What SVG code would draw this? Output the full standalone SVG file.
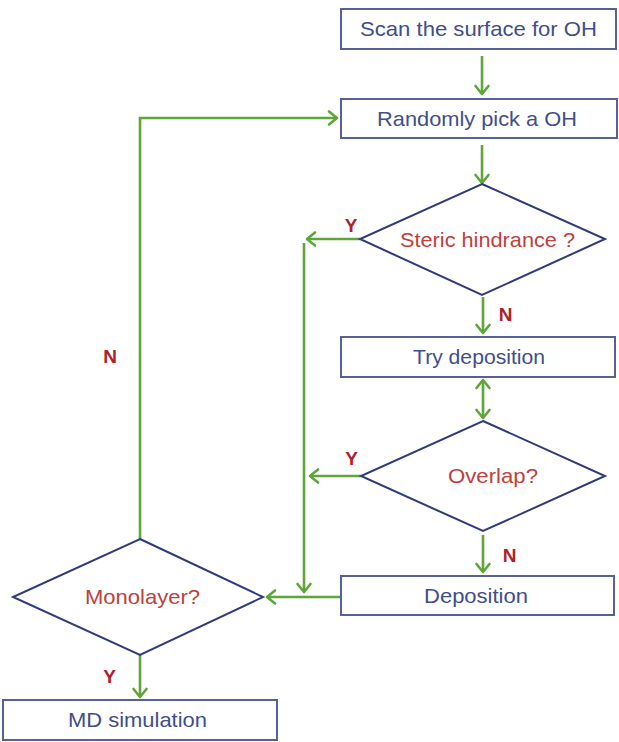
<svg xmlns="http://www.w3.org/2000/svg" width="619" height="742" viewBox="0 0 619 742">
<defs>
<style>
.box{fill:#ffffff;stroke:#56609a;stroke-width:2}
.dia{fill:#ffffff;stroke:#2f3b7a;stroke-width:2}
.bt{font-family:"Liberation Sans",Arial,sans-serif;font-size:21px;fill:#3f4e8c;text-anchor:middle}
.dt{font-family:"Liberation Sans",Arial,sans-serif;font-size:21px;fill:#c0403c;text-anchor:middle}
.lb{font-family:"Liberation Sans",Arial,sans-serif;font-size:19px;font-weight:bold;fill:#b0202a;text-anchor:middle}
.con{fill:none;stroke:#5ea53a;stroke-width:2.6}
</style>
<marker id="ah" viewBox="-10 -8 12 16" refX="0" refY="0" markerWidth="12" markerHeight="16" markerUnits="userSpaceOnUse" orient="auto-start-reverse" overflow="visible">
<path d="M-8,-6.5 L0,0 L-8,6.5" fill="none" stroke="#5ea53a" stroke-width="2.6" stroke-linejoin="round" stroke-linecap="round"/>
</marker>
</defs>
<rect width="619" height="742" fill="#ffffff"/>

<g id="connectors">
<line class="con" x1="482" y1="56" x2="482" y2="94" marker-end="url(#ah)"/>
<line class="con" x1="482" y1="145" x2="482" y2="183" marker-end="url(#ah)"/>
<line class="con" x1="360" y1="239" x2="307" y2="239" marker-end="url(#ah)"/>
<line class="con" x1="304" y1="243" x2="304" y2="592" marker-end="url(#ah)"/>
<line class="con" x1="483" y1="297" x2="483" y2="333" marker-end="url(#ah)"/>
<line class="con" x1="483" y1="380" x2="483" y2="418" marker-start="url(#ah)" marker-end="url(#ah)"/>
<line class="con" x1="361" y1="476" x2="310" y2="476" marker-end="url(#ah)"/>
<line class="con" x1="483" y1="535" x2="483" y2="572" marker-end="url(#ah)"/>
<line class="con" x1="341" y1="597" x2="267" y2="597" marker-end="url(#ah)"/>
<line class="con" x1="140" y1="655" x2="140" y2="697" marker-end="url(#ah)"/>
<polyline class="con" points="140,539 140,118 337,118" marker-end="url(#ah)"/>
</g>

<g id="scan">
<rect class="box" x="341" y="9" width="275" height="40"/>
<text class="bt" x="478.5" y="36" textLength="237" lengthAdjust="spacingAndGlyphs">Scan  the surface for OH</text>
</g>
<g id="pick">
<rect class="box" x="341" y="99" width="276" height="39"/>
<text class="bt" x="477" y="126" textLength="200" lengthAdjust="spacingAndGlyphs">Randomly pick a OH</text>
</g>
<g id="steric">
<polygon class="dia" points="482,184 605,239 482,295 360,239"/>
<text class="dt" x="487.5" y="247" textLength="175" lengthAdjust="spacingAndGlyphs">Steric hindrance ?</text>
</g>
<g id="try">
<rect class="box" x="341" y="337" width="274" height="40"/>
<text class="bt" x="479" y="364" textLength="132" lengthAdjust="spacingAndGlyphs">Try deposition</text>
</g>
<g id="overlap">
<polygon class="dia" points="483,421 605,476 483,531 361,476"/>
<text class="dt" x="493" y="483" textLength="90" lengthAdjust="spacingAndGlyphs">Overlap?</text>
</g>
<g id="deposition">
<rect class="box" x="341" y="576" width="273" height="39"/>
<text class="bt" x="476" y="603" textLength="104" lengthAdjust="spacingAndGlyphs">Deposition</text>
</g>
<g id="monolayer">
<polygon class="dia" points="140,539 263,597 140,655 13,597"/>
<text class="dt" x="142.5" y="604" textLength="115" lengthAdjust="spacingAndGlyphs">Monolayer?</text>
</g>
<g id="md">
<rect class="box" x="3" y="700" width="274" height="40"/>
<text class="bt" x="137.5" y="727" textLength="139" lengthAdjust="spacingAndGlyphs">MD simulation</text>
</g>

<g id="labels">
<text class="lb" x="110" y="363">N</text>
<text class="lb" x="505.5" y="321">N</text>
<text class="lb" x="351" y="232">Y</text>
<text class="lb" x="351.5" y="465">Y</text>
<text class="lb" x="509.5" y="562">N</text>
<text class="lb" x="109.5" y="683">Y</text>
</g>
</svg>
